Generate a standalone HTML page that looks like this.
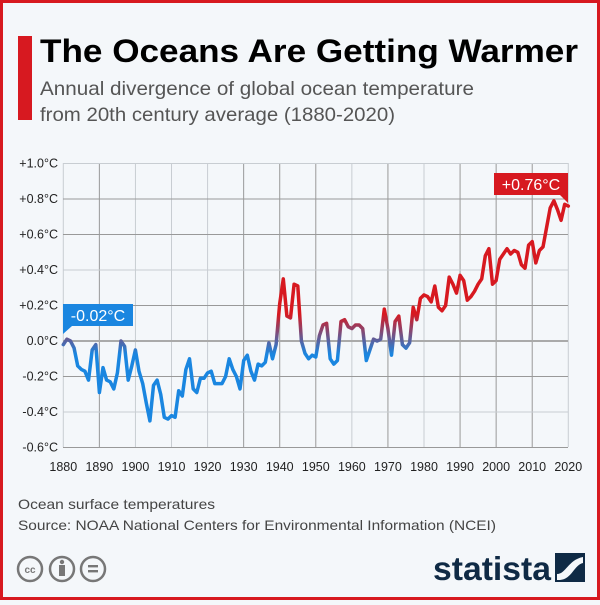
<!DOCTYPE html>
<html><head><meta charset="utf-8"><style>
html,body{margin:0;padding:0;}
body{width:600px;height:600px;overflow:hidden;background:#f4f7fa;font-family:"Liberation Sans",sans-serif;}
</style></head><body>
<svg width="600" height="600" viewBox="0 0 600 600" xmlns="http://www.w3.org/2000/svg" font-family="Liberation Sans, sans-serif">
<rect x="1.5" y="1.5" width="597" height="597" fill="#f4f7fa" stroke="#d71920" stroke-width="3"/>
<rect x="18" y="36" width="14" height="84" fill="#d71920"/>
<text x="40" y="62" font-size="32" font-weight="bold" fill="#000" textLength="538" lengthAdjust="spacingAndGlyphs">The Oceans Are Getting Warmer</text>
<text x="40" y="95" font-size="19.5" fill="#555" textLength="434" lengthAdjust="spacingAndGlyphs">Annual divergence of global ocean temperature</text>
<text x="40" y="121" font-size="19.5" fill="#555" textLength="355" lengthAdjust="spacingAndGlyphs">from 20th century average (1880-2020)</text>
<g id="grid"></g>
<defs>
<linearGradient id="lg" gradientUnits="userSpaceOnUse" x1="0" y1="314" x2="0" y2="354">
<stop offset="0" stop-color="#d71920"/><stop offset="1" stop-color="#1a86e0"/>
</linearGradient>
</defs>
<g id="chart"></g>
<rect x="63" y="304" width="70" height="22" fill="#1a86e0"/>
<polygon points="63,326 72,326 63,334" fill="#1a86e0"/>
<text x="98" y="321" font-size="16" fill="#fff" text-anchor="middle">-0.02°C</text>
<rect x="494" y="173" width="74" height="22" fill="#d71920"/>
<polygon points="560,195 568,195 568,203" fill="#d71920"/>
<text x="531" y="190" font-size="16" fill="#fff" text-anchor="middle">+0.76°C</text>
<text x="18" y="509" font-size="14" fill="#444" textLength="197" lengthAdjust="spacingAndGlyphs">Ocean surface temperatures</text>
<text x="18" y="530" font-size="14" fill="#444" textLength="478" lengthAdjust="spacingAndGlyphs">Source: NOAA National Centers for Environmental Information (NCEI)</text>
<g fill="none" stroke="#777" stroke-width="2.5">
<circle cx="30" cy="569" r="12"/><circle cx="62" cy="569" r="12"/><circle cx="93" cy="569" r="12"/>
</g>
<text x="30" y="573" font-size="10" font-weight="bold" fill="#777" text-anchor="middle">cc</text>
<circle cx="62" cy="562" r="2.2" fill="#777"/><rect x="59" y="565" width="6" height="11" fill="#777"/>
<rect x="88" y="565" width="10" height="2.4" fill="#777"/><rect x="88" y="570" width="10" height="2.4" fill="#777"/>
<text x="433" y="580" font-size="33" font-weight="bold" fill="#0f2a45" textLength="118" lengthAdjust="spacingAndGlyphs">statista</text>
<rect x="555" y="553" width="30" height="29" fill="#0f2a45"/>
<path d="M557,580 L557,574 C566,574 568,560 583,557 L583,563 C574,565 572,579 560,580Z" fill="#f4f7fa"/>
</svg>
<script>
function X(yr){return 63.3+(yr-1880)*3.607;}
function Y(v){return 341-177.5*v;}
var g=document.getElementById("grid"),s="";
var darkV={1890:1,1930:1,1940:1,1950:1,1970:1,1990:1,2000:1,2010:1};
for(var yr=1880;yr<=2020;yr+=10){
 s+='<line x1="'+X(yr)+'" y1="163" x2="'+X(yr)+'" y2="447" stroke="'+(darkV[yr]?'#999':'#c8cdd2')+'" stroke-width="1"/>';
 s+='<text x="'+X(yr)+'" y="471" font-size="12.5" fill="#222" text-anchor="middle">'+yr+'</text>';
}
var vs=[1.0,0.8,0.6,0.4,0.2,0,-0.2,-0.4,-0.6];
var darkH={"0.8":1,"0.6":1,"0.2":1,"-0.2":1,"-0.6":1};
vs.forEach(function(v){
 var lab=(v>0?'+':'')+(v===0?'0.0':v.toFixed(1))+'°C';
 var col=v===0?'#aaa':(darkH[String(v)]?'#999':'#c8cdd2');
 s+='<line x1="63" y1="'+Y(v)+'" x2="568" y2="'+Y(v)+'" stroke="'+col+'" stroke-width="'+(v===0?2:1)+'"/>';
 s+='<text x="58" y="'+(Y(v)+4)+'" font-size="12.5" fill="#222" text-anchor="end">'+lab+'</text>';
});
g.innerHTML=s;
var d=[-0.02,0.01,0.0,-0.04,-0.14,-0.16,-0.17,-0.22,-0.05,-0.02,
-0.29,-0.15,-0.22,-0.23,-0.27,-0.18,0.0,-0.03,-0.22,-0.14,
-0.05,-0.17,-0.24,-0.35,-0.45,-0.25,-0.22,-0.30,-0.43,-0.44,
-0.42,-0.43,-0.28,-0.31,-0.16,-0.10,-0.27,-0.29,-0.21,-0.21,
-0.18,-0.17,-0.24,-0.24,-0.24,-0.20,-0.10,-0.16,-0.20,-0.27,
-0.11,-0.08,-0.17,-0.22,-0.13,-0.14,-0.12,-0.01,-0.10,-0.02,
0.21,0.35,0.14,0.13,0.32,0.31,0.0,-0.07,-0.10,-0.08,
-0.09,0.03,0.09,0.10,-0.10,-0.13,-0.11,0.11,0.12,0.08,
0.07,0.09,0.09,0.07,-0.11,-0.05,0.01,0.0,0.01,0.18,
0.07,-0.08,0.11,0.14,-0.02,-0.04,-0.01,0.19,0.12,0.24,
0.26,0.25,0.22,0.31,0.19,0.17,0.20,0.36,0.32,0.27,
0.37,0.34,0.23,0.25,0.28,0.32,0.35,0.48,0.52,0.32,
0.34,0.46,0.49,0.52,0.49,0.51,0.50,0.43,0.41,0.54,
0.56,0.44,0.51,0.53,0.64,0.75,0.79,0.74,0.68,0.77,0.76];
var p=d.map(function(v,i){return X(1880+i).toFixed(1)+","+Y(v).toFixed(1);}).join(" ");
document.getElementById("chart").innerHTML='<polyline points="'+p+'" fill="none" stroke="url(#lg)" stroke-width="3.5" stroke-linejoin="round" stroke-linecap="round"/>';
</script>
</body></html>
